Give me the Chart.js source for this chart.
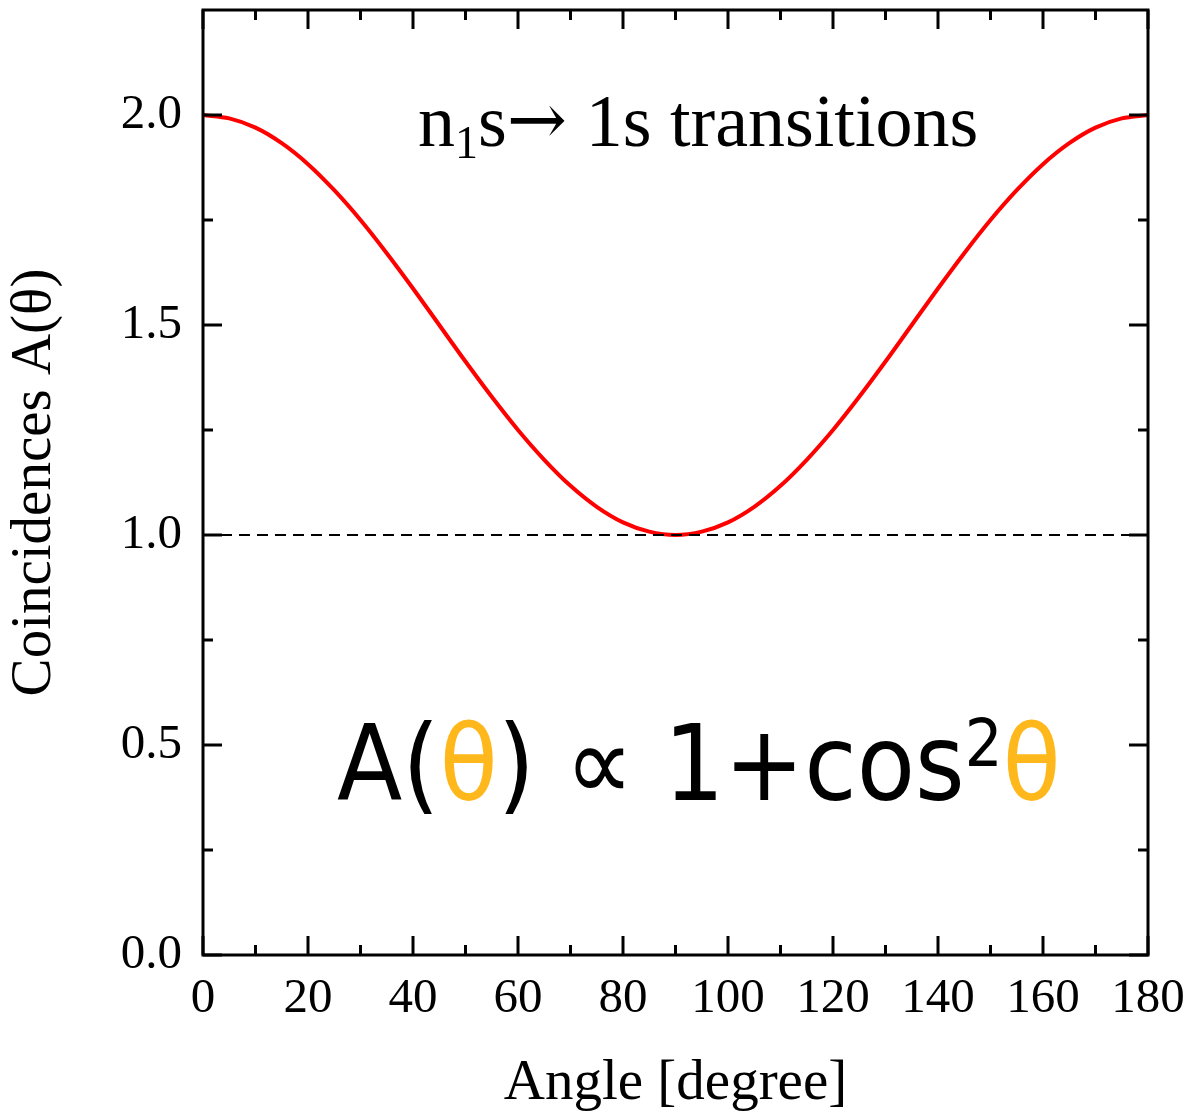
<!DOCTYPE html>
<html>
<head>
<meta charset="utf-8">
<script src="https://cdn.jsdelivr.net/npm/chart.js@4.4.1/dist/chart.umd.min.js"></script>
<style>
  html, body { margin: 0; padding: 0; background: #fff; }
  #wrap { width: 1189px; height: 1113px; }
</style>
</head>
<body>
<div id="wrap"><canvas id="c" width="1189" height="1113"></canvas></div>
<script>
// Angular correlation of the coincidence rate, sampled every 5 degrees
const angles = [0, 5, 10, 15, 20, 25, 30, 35, 40, 45, 50, 55, 60, 65, 70, 75, 80, 85, 90,
                95, 100, 105, 110, 115, 120, 125, 130, 135, 140, 145, 150, 155, 160, 165, 170, 175, 180];
const coincidences = [2.000, 1.992, 1.970, 1.933, 1.883, 1.821, 1.750, 1.671, 1.587, 1.500,
                      1.413, 1.329, 1.250, 1.179, 1.117, 1.067, 1.030, 1.008, 1.000,
                      1.008, 1.030, 1.067, 1.117, 1.179, 1.250, 1.329, 1.413, 1.500, 1.587,
                      1.671, 1.750, 1.821, 1.883, 1.933, 1.970, 1.992, 2.000];

// Isotropic reference level
const isotropicAngles = [0, 180];
const isotropicLevel = [1.0, 1.0];

// Axis ticks
const xMajorTicks = [0, 20, 40, 60, 80, 100, 120, 140, 160, 180];
const xMinorTicks = [10, 30, 50, 70, 90, 110, 130, 150, 170];
const yMajorTicks = [0.0, 0.5, 1.0, 1.5, 2.0];
const yMinorTicks = [0.25, 0.75, 1.25, 1.75];

const SERIF = '"Liberation Serif", "Times New Roman", serif';
const SANS = '"DejaVu Sans Condensed", "DejaVu Sans", sans-serif';
const THETA_COLOR = '#FFB81C';

const toPoints = (xs, ys) => xs.map((v, i) => ({ x: v, y: ys[i] }));

// Fixed box sizes so the plot frame lands at the same place every time
const pinScale = size => s => {
  if (s.isHorizontal()) s.height = size; else s.width = size;
  s.paddingTop = 0; s.paddingBottom = 0; s.paddingLeft = 0; s.paddingRight = 0;
};

// Closed frame with inward ticks on all four sides
const frameTicks = {
  id: 'frameTicks',
  afterDatasetsDraw(chart) {
    const { ctx, chartArea: a, scales: { x, y } } = chart;
    const MAJOR = 19, MINOR = 10;
    ctx.save();
    ctx.strokeStyle = '#000';
    ctx.lineWidth = 3;
    ctx.lineCap = 'butt';
    const seg = (x1, y1, x2, y2) => { ctx.beginPath(); ctx.moveTo(x1, y1); ctx.lineTo(x2, y2); ctx.stroke(); };
    const xt = (list, len) => list.forEach(v => {
      const px = x.getPixelForValue(v);
      seg(px, a.bottom, px, a.bottom - len);
      seg(px, a.top, px, a.top + len);
    });
    const yt = (list, len) => list.forEach(v => {
      const py = y.getPixelForValue(v);
      seg(a.left, py, a.left + len, py);
      seg(a.right, py, a.right - len, py);
    });
    xt(xMajorTicks, MAJOR); xt(xMinorTicks, MINOR);
    yt(yMajorTicks, MAJOR); yt(yMinorTicks, MINOR);
    ctx.lineCap = 'square';
    ctx.strokeRect(a.left, a.top, a.right - a.left, a.bottom - a.top);
    ctx.restore();
  }
};

// Draws a run of text pieces left to right: [text, font, color, dy]
function drawRun(ctx, x, y, pieces) {
  let cx = x;
  pieces.forEach(([t, font, color, dy]) => {
    ctx.font = font;
    ctx.fillStyle = color;
    ctx.fillText(t, cx, y + (dy || 0));
    cx += ctx.measureText(t).width;
  });
}

const annotations = {
  id: 'annotations',
  afterDraw(chart) {
    const { ctx } = chart;
    ctx.save();
    ctx.textBaseline = 'alphabetic';
    ctx.textAlign = 'left';
    const big = '74px ' + SERIF, sub = '46px ' + SERIF;
    const arrow = '72px "DejaVu Serif", serif';
    drawRun(ctx, 418, 146, [
      ['n', big, '#000'], ['1', sub, '#000', 12], ['s', big, '#000'],
      ['\u2192', arrow, '#000', -2], [' 1s transitions', big, '#000']
    ]);
    const f = '106px ' + SANS, sup = '66px ' + SANS;
    drawRun(ctx, 337, 800, [
      ['A(', f, '#000'], ['\u03B8', f, THETA_COLOR], [')', f, '#000'],
      [' \u221D ', f, '#000'], ['1+cos', f, '#000'], ['2', sup, '#000', -34],
      ['\u03B8', f, THETA_COLOR]
    ]);
    ctx.restore();
  }
};

new Chart(document.getElementById('c'), {
  type: 'scatter',
  data: {
    datasets: [
      {
        data: toPoints(isotropicAngles, isotropicLevel),
        showLine: true,
        borderColor: '#000',
        borderWidth: 2,
        borderDash: [11, 7],
        pointRadius: 0,
        order: 0
      },
      {
        data: toPoints(angles, coincidences),
        showLine: true,
        borderColor: '#ff0000',
        borderWidth: 4,
        pointRadius: 0,
        cubicInterpolationMode: 'monotone',
        order: 1
      }
    ]
  },
  options: {
    responsive: false,
    animation: false,
    devicePixelRatio: 1,
    layout: { padding: { top: 10, right: 41, left: 0, bottom: 0 } },
    plugins: { legend: { display: false }, tooltip: { enabled: false } },
    scales: {
      x: {
        type: 'linear', min: 0, max: 180,
        grid: { display: false, drawTicks: false },
        border: { display: false },
        afterBuildTicks: s => { s.ticks = xMajorTicks.map(v => ({ value: v })); },
        afterFit: pinScale(158),
        ticks: {
          color: '#000', font: { family: SERIF, size: 49 }, padding: 15,
          maxRotation: 0, autoSkip: false, callback: v => String(v)
        },
        title: {
          display: true, text: 'Angle [degree]', color: '#000',
          font: { family: SERIF, size: 57, lineHeight: 1.0 }, padding: 0
        }
      },
      y: {
        type: 'linear', min: 0, max: 2.25,
        grid: { display: false, drawTicks: false },
        border: { display: false },
        afterBuildTicks: s => { s.ticks = yMajorTicks.map(v => ({ value: v })); },
        afterFit: pinScale(203),
        ticks: {
          color: '#000', font: { family: SERIF, size: 49 }, padding: 21,
          callback: v => Number(v).toFixed(1)
        },
        title: {
          display: true, text: 'Coincidences A(\u03B8)', color: '#000',
          font: { family: SERIF, size: 57, lineHeight: 1.0 }, padding: { top: 7, bottom: 0 }
        }
      }
    }
  },
  plugins: [frameTicks, annotations]
});
</script>
</body>
</html>
